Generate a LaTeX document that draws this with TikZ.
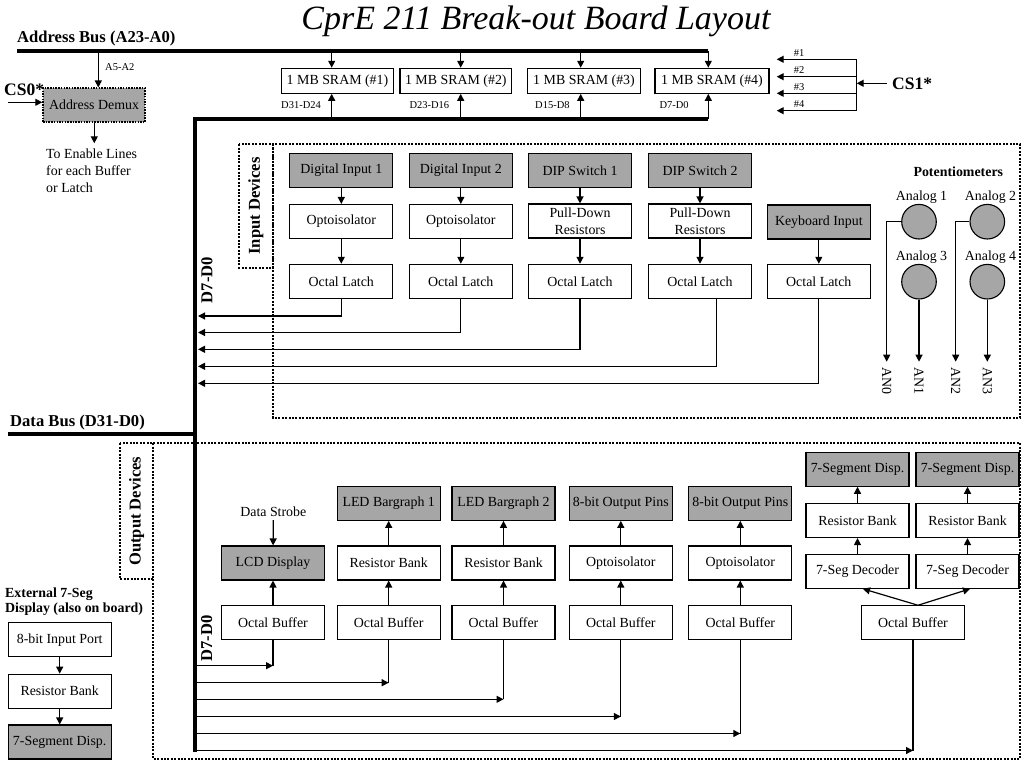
\documentclass[tikz,border=0pt]{standalone}
\usepackage{fontspec}
\setmainfont{Liberation Serif}
\usetikzlibrary{arrows.meta,calc}
\definecolor{gfill}{RGB}{166,166,166}
\begin{document}
\begin{tikzpicture}[x=1pt,y=-1pt,
  fs/.style={font=\fontsize{13.9}{16.5}\selectfont},
  box/.style={draw,line width=1.1pt,minimum width=103pt,minimum height=34pt,inner sep=0pt,align=center,fs},
  gbox/.style={box,fill=gfill},
  sram/.style={box,minimum height=25pt},
  arr/.style={line width=1.2pt,-{Triangle[length=7pt,width=7pt]}},
  ln/.style={line width=1.2pt},
  bus/.style={line width=4pt},
  dots/.style={line width=2pt,dash pattern=on 2pt off 1.4pt},
  lbl/.style={font=\fontsize{16.6}{18}\selectfont\bfseries},
  cslbl/.style={font=\fontsize{17.5}{19}\selectfont\bfseries,inner sep=0pt},
  small/.style={font=\fontsize{10.5}{12}\selectfont,inner sep=0pt},
  pot/.style={circle,draw,fill=gfill,line width=1.1pt,minimum size=34.6pt,inner sep=0pt}
]
\useasboundingbox (0,0) rectangle (1024,768);

% title
\node[anchor=base,font=\fontsize{34}{36}\selectfont\itshape,inner sep=0pt] (title) at (536,30) {CprE 211 Break-out Board Layout};

% address bus
\node[lbl,anchor=base west,inner sep=0pt] (abl) at (17,42) {Address Bus (A23-A0)};
\coordinate (abL) at (17,51);
\coordinate (abR) at (708.3,51);
\draw[bus] (abL) -- (abR);

% address demux
\node[box,fill=gfill,minimum width=102pt,minimum height=34pt,line width=1.5pt,dash pattern=on 1.5pt off 1.2pt] (demux) at (94,105.2) {Address Demux};
\coordinate (a52) at (98.3,51);
\draw[arr] (a52) -- (a52 |- demux.north);
\node[small,anchor=west] (a52l) at (105,67) {A5-A2};
\node[cslbl,anchor=base west] (cs0) at (4,95) {CS0*};
\coordinate (cs0s) at (8,102.3);
\draw[arr] (cs0s) -- (cs0s -| demux.west);
\coordinate (en) at (94.3,143.3);
\draw[arr] (demux.south -| en) -- (en);
\node[anchor=north west,align=left,inner sep=0pt,font=\fontsize{13.9}{17}\selectfont] (entext) at (46,148.5) {To Enable Lines\\for each Buffer\\or Latch};

% SRAMs
\node[sram,minimum width=111.6pt] (m1) at (337.5,80.8) {1 MB SRAM (\#1)};
\node[sram,minimum width=111.7pt] (m2) at (455.8,80.8) {1 MB SRAM (\#2)};
\node[sram,minimum width=113.4pt] (m3) at (584,80.8) {1 MB SRAM (\#3)};
\node[sram,minimum width=114pt] (m4) at (712,80.8) {1 MB SRAM (\#4)};
\coordinate (t1) at (331.7,51);
\coordinate (t2) at (460.7,51);
\coordinate (t3) at (580.7,51);
\coordinate (t4) at (708.3,51);
\draw[arr] (t1) -- (t1 |- m1.north);
\draw[arr] (t2) -- (t2 |- m2.north);
\draw[arr] (t3) -- (t3 |- m3.north);
\draw[arr] (t4) -- (t4 |- m4.north);

% data bus
\coordinate (dbot) at (195,752);
\coordinate (dbc) at (195,119.3);
\coordinate (dbr) at (708.3,119.3);
\draw[bus] (dbot) -- (dbc) -- (dbr);
\coordinate (u1) at (331.7,119.3);
\coordinate (u2) at (460.7,119.3);
\coordinate (u3) at (580.7,119.3);
\coordinate (u4) at (708.3,119.3);
\draw[arr] (u1) -- (u1 |- m1.south);
\draw[arr] (u2) -- (u2 |- m2.south);
\draw[arr] (u3) -- (u3 |- m3.south);
\draw[arr] (u4) -- (u4 |- m4.south);
\node[small,anchor=west] (d1l) at (281,105.5) {D31-D24};
\node[small,anchor=west] (d2l) at (409.3,105.5) {D23-D16};
\node[small,anchor=west] (d3l) at (535,105.5) {D15-D8};
\node[small,anchor=west] (d4l) at (659.3,105.5) {D7-D0};
\node[lbl,anchor=base west,inner sep=0pt] (dbl) at (10,426) {Data Bus (D31-D0)};
\coordinate (dbL) at (8,434);
\draw[bus] (dbL) -- (dbL -| dbot);

% CS1
\coordinate (cv1) at (856.7,59.3);
\coordinate (cv2) at (856.7,76.7);
\coordinate (cv3) at (856.7,93.3);
\coordinate (cv4) at (856.7,110.7);
\coordinate (cj) at (856.7,83.3);
\draw[ln] (cv1) -- (cv4);
\draw[arr] (cv1) -- ++(-80,0);
\draw[arr] (cv2) -- ++(-80,0);
\draw[arr] (cv3) -- ++(-80,0);
\draw[arr] (cv4) -- ++(-80,0);
\node[small] (h1) at (799,52.8) {\#1};
\node[small] (h2) at (799,70.2) {\#2};
\node[small] (h3) at (799,86.8) {\#3};
\node[small] (h4) at (799,104.2) {\#4};
\node[cslbl,anchor=west] (cs1) at (892,83.3) {CS1*};
\coordinate (cs1t) at (886.7,83.3);
\draw[arr] (cs1t) -- (cj);

% Input devices
\node[draw,dots,rotate=90,minimum width=123.4pt,minimum height=33.4pt,inner sep=0pt,lbl] (inlab) at (256,206) {Input Devices};
\draw[dots] (272.7,144.3) rectangle (1020,417.5);
\node[lbl,rotate=90,inner sep=0pt] (d70a) at (207,280) {D7-D0};

\node[gbox] (di1) at (341.3,170.5) {Digital Input 1};
\node[box] (op1) at (341.3,221.5) {Optoisolator};
\node[box] (la1) at (341.3,281.3) {Octal Latch};
\node[gbox] (di2) at (460.8,170.5) {Digital Input 2};
\node[box] (op2) at (460.8,221.5) {Optoisolator};
\node[box] (la2) at (460.8,281.3) {Octal Latch};
\node[gbox] (dip1) at (580,170.5) {DIP Switch 1};
\node[box] (pd1) at (580,221) {Pull-Down\\Resistors};
\node[box] (la3) at (580,281.3) {Octal Latch};
\node[gbox] (dip2) at (700,170.5) {DIP Switch 2};
\node[box] (pd2) at (700,221) {Pull-Down\\Resistors};
\node[box] (la4) at (700,281.3) {Octal Latch};
\node[gbox] (kb) at (818.8,222) {Keyboard Input};
\node[box] (la5) at (818.8,281.3) {Octal Latch};
\draw[arr] (di1) -- (op1);
\draw[arr] (op1) -- (la1);
\draw[arr] (di2) -- (op2);
\draw[arr] (op2) -- (la2);
\draw[arr] (dip1) -- (pd1);
\draw[arr] (pd1) -- (la3);
\draw[arr] (dip2) -- (pd2);
\draw[arr] (pd2) -- (la4);
\draw[arr] (kb) -- (la5);
\coordinate (ib1) at (198,316);
\coordinate (ib2) at (198,332.5);
\coordinate (ib3) at (198,349.3);
\coordinate (ib4) at (198,366.3);
\coordinate (ib5) at (198,383.3);
\draw[arr] (la1.south) |- (ib1);
\draw[arr] (la2.south) |- (ib2);
\draw[arr] (la3.south) |- (ib3);
\draw[arr] ([xshift=16.7pt]la4.south) |- (ib4);
\draw[arr] (la5.south) |- (ib5);

% potentiometers
\node[font=\fontsize{13.9}{16}\selectfont\bfseries] (potl) at (958.3,171.7) {Potentiometers};
\node[pot] (p1) at (919,221.7) {};
\node[pot] (p2) at (987.3,221.7) {};
\node[pot] (p3) at (919,281.7) {};
\node[pot] (p4) at (987.3,281.7) {};
\node[fs] (p1l) at (921.5,197.3) {Analog 1};
\node[fs] (p2l) at (990.5,197.3) {Analog 2};
\node[fs] (p3l) at (921.5,256.7) {Analog 3};
\node[fs] (p4l) at (990.5,256.7) {Analog 4};
\coordinate (an0) at (886.7,361.7);
\coordinate (an1) at (919,361.7);
\coordinate (an2) at (955.7,361.7);
\coordinate (an3) at (987.3,361.7);
\draw[arr] (p1.west) -| (an0);
\draw[arr] (p3.south) -- (an1);
\draw[arr] (p2.west) -| (an2);
\draw[arr] (p4.south) -- (an3);
\node[fs,rotate=-90,anchor=west,inner sep=0pt] (an0l) at (886.7,367.5) {AN0};
\node[fs,rotate=-90,anchor=west,inner sep=0pt] (an1l) at (919,367.5) {AN1};
\node[fs,rotate=-90,anchor=west,inner sep=0pt] (an2l) at (955.7,367.5) {AN2};
\node[fs,rotate=-90,anchor=west,inner sep=0pt] (an3l) at (987.3,367.5) {AN3};

% Output devices
\node[draw,dots,rotate=90,minimum width=135.7pt,minimum height=33.3pt,inner sep=0pt,lbl] (outlab) at (136.65,511.2) {Output Devices};
\draw[dots] (153.3,443.3) rectangle (1020,759);
\node[lbl,rotate=90,inner sep=0pt] (d70b) at (206.7,638.3) {D7-D0};

\node[fs] (ds) at (273.3,511.7) {Data Strobe};
\node[gbox] (lcd) at (273,563) {LCD Display};
\node[box] (ob1) at (273,622.8) {Octal Buffer};
\draw[arr] (ds) -- (lcd);
\draw[arr] (ob1) -- (lcd);

\node[gbox] (lb1) at (388.7,503.3) {LED Bargraph 1};
\node[box] (rb1) at (388.7,563) {Resistor Bank};
\node[box] (ob2) at (388.7,622.8) {Octal Buffer};
\node[gbox] (lb2) at (503.5,503.3) {LED Bargraph 2};
\node[box] (rb2) at (503.5,563) {Resistor Bank};
\node[box] (ob3) at (503.5,622.8) {Octal Buffer};
\node[gbox] (pa) at (620.8,503.3) {8-bit Output Pins};
\node[box] (oia) at (620.8,563) {Optoisolator};
\node[box] (ob4) at (620.8,622.8) {Octal Buffer};
\node[gbox] (pb) at (740.3,503.3) {8-bit Output Pins};
\node[box] (oib) at (740.3,563) {Optoisolator};
\node[box] (ob5) at (740.3,622.8) {Octal Buffer};
\draw[arr] (ob2) -- (rb1);
\draw[arr] (rb1) -- (lb1);
\draw[arr] (ob3) -- (rb2);
\draw[arr] (rb2) -- (lb2);
\draw[arr] (ob4) -- (oia);
\draw[arr] (oia) -- (pa);
\draw[arr] (ob5) -- (oib);
\draw[arr] (oib) -- (pb);

\node[gbox] (sd1) at (857.5,469.2) {7-Segment Disp.};
\node[gbox] (sd2) at (967.5,469.2) {7-Segment Disp.};
\node[box] (rs1) at (857.5,520.5) {Resistor Bank};
\node[box] (rs2) at (967.5,520.5) {Resistor Bank};
\node[box] (dc1) at (857.5,571.3) {7-Seg Decoder};
\node[box] (dc2) at (967.5,571.3) {7-Seg Decoder};
\node[box] (ob6) at (913,622.8) {Octal Buffer};
\draw[arr] (dc1) -- (rs1);
\draw[arr] (rs1) -- (sd1);
\draw[arr] (dc2) -- (rs2);
\draw[arr] (rs2) -- (sd2);
\draw[arr] ([xshift=5pt]ob6.north) -- ([xshift=5.5pt]dc1.south);
\draw[arr] ([xshift=5pt]ob6.north) -- ([xshift=2.5pt]dc2.south);

\coordinate (j1) at (273,665.7);
\coordinate (j2) at (388.7,682.7);
\coordinate (j3) at (503.5,699.3);
\coordinate (j4) at (620.8,716.5);
\coordinate (j5) at (740.3,733.5);
\coordinate (j6) at (913,750.5);
\draw[arr] (j1 -| dbot) -- (j1);
\draw[arr] (j2 -| dbot) -- (j2);
\draw[arr] (j3 -| dbot) -- (j3);
\draw[arr] (j4 -| dbot) -- (j4);
\draw[arr] (j5 -| dbot) -- (j5);
\draw[arr] (j6 -| dbot) -- (j6);
\draw[ln] (ob1) -- (j1);
\draw[ln] (ob2) -- (j2);
\draw[ln] (ob3) -- (j3);
\draw[ln] (ob4) -- (j4);
\draw[ln] (ob5) -- (j5);
\draw[ln] (ob6) -- (j6);

% external 7-seg
\node[anchor=north west,align=left,inner sep=0pt,font=\fontsize{13.9}{14.7}\selectfont\bfseries] (extl) at (5,587.5) {External 7-Seg\\Display (also on board)};
\node[box,minimum width=102.7pt] (ip) at (59.7,639.7) {8-bit Input Port};
\node[box,minimum width=102.7pt] (rbe) at (59.7,691.2) {Resistor Bank};
\node[gbox,minimum width=102.7pt] (sde) at (59.7,742) {7-Segment Disp.};
\draw[arr] (ip) -- (rbe);
\draw[arr] (rbe) -- (sde);
\end{tikzpicture}
\end{document}
